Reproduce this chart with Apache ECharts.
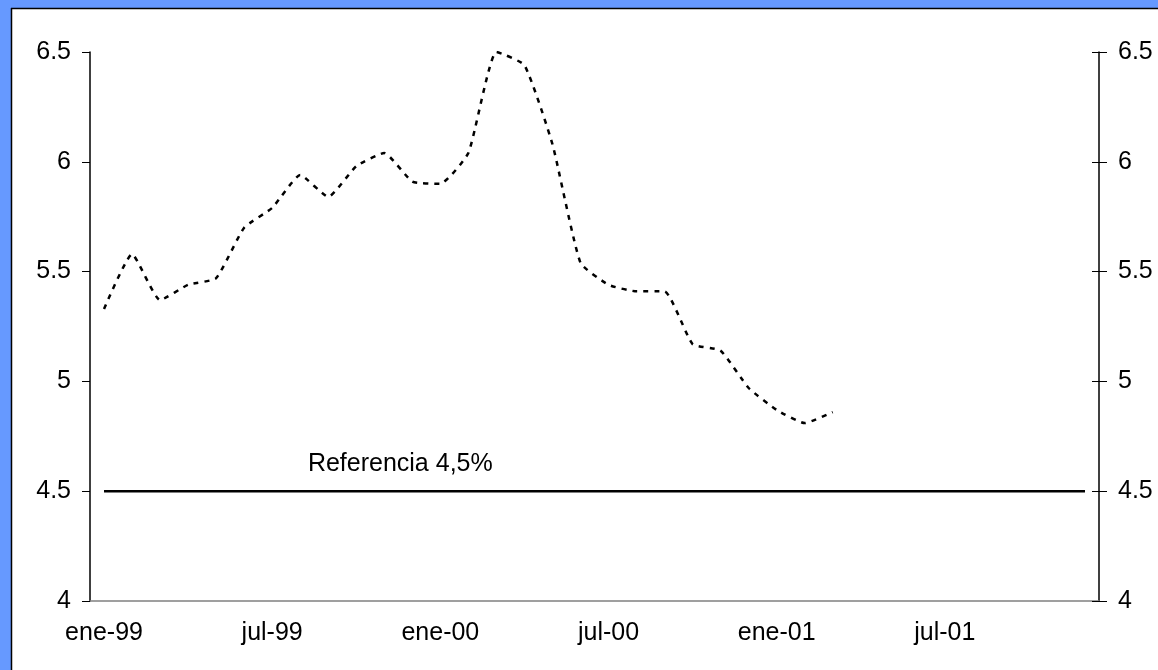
<!DOCTYPE html>
<html>
<head>
<meta charset="utf-8">
<title>Referencia 4,5%</title>
<script src="https://cdn.jsdelivr.net/npm/echarts@6/dist/echarts.min.js"></script>
<style>
    html, body { margin: 0; padding: 0; background: #fff; }
    #chart_container { width: 1158px; height: 670px; }
</style>
</head>
<body>
<div id="chart_container"></div>
<script>
// meses ene-99 .. dic-01
var meses = ['ene', 'feb', 'mar', 'abr', 'may', 'jun', 'jul', 'ago', 'sep', 'oct', 'nov', 'dic']
    , anios = ['99', '00', '01'];
var categorias = [];
for (var a = 0; a < anios.length; a++) {
    for (var m = 0; m < meses.length; m++) {
        categorias.push(meses[m] + '-' + anios[a]);
    }
}

// serie mensual (ene-99 .. mar-01)
var valores = [5.33, 5.58, 5.37, 5.44, 5.47, 5.70, 5.79, 5.94, 5.84, 5.98,
    6.04, 5.91, 5.90, 6.04, 6.50, 6.44, 6.08, 5.54, 5.44, 5.41,
    5.41, 5.17, 5.14, 4.97, 4.87, 4.81, 4.86];

// linea de referencia 4,5
var referencia = [];
for (var i = 0; i < categorias.length; i++) referencia.push(4.5);

var yTicks = [4, 4.5, 5, 5.5, 6, 6.5];

var fuente = 'Liberation Sans, Arial, sans-serif';
var tam = 25;

var dom = document.getElementById('chart_container');
var myChart = echarts.init(dom);
var option = {
    animation: false,
    backgroundColor: '#fff',
    graphic: [
        { type: 'rect', shape: { x: 0, y: 0, width: 1158, height: 8 }, style: { fill: '#6699ff' } }
        , { type: 'rect', shape: { x: 0, y: 0, width: 11, height: 670 }, style: { fill: '#6699ff' } }
        , { type: 'line', shape: { x1: 11, y1: 8.5, x2: 1158, y2: 8.5 }, style: { stroke: '#000', lineWidth: 1.5 } }
        , { type: 'line', shape: { x1: 11.5, y1: 8, x2: 11.5, y2: 670 }, style: { stroke: '#000', lineWidth: 1.5 } }
    ],
    grid: { left: 90, right: 59, top: 52, bottom: 69 },
    xAxis: [{
        type: 'category',
        data: categorias,
        boundaryGap: true,
        axisLine: { lineStyle: { color: '#808080', width: 1.5 } },
        axisTick: { interval: 0, length: 6, lineStyle: { color: '#000' } },
        axisLabel: {
            interval: 5, color: '#000', fontSize: tam, fontFamily: fuente, margin: 20
        },
        splitLine: { show: false }
    }, {
        // marcas largas cada 6 meses
        type: 'category',
        data: categorias,
        position: 'bottom',
        boundaryGap: true,
        axisLine: { show: false },
        axisTick: { interval: 5, length: 8, lineStyle: { color: '#000' } },
        axisLabel: { show: false }
    }],
    yAxis: [{
        type: 'value',
        min: 4, max: 6.5, interval: 0.5,
        position: 'left',
        axisLine: { show: true, lineStyle: { color: '#000', width: 1.5 } },
        axisTick: { show: true, length: 8, lineStyle: { color: '#000' } },
        axisLabel: {
            color: '#000', fontSize: tam, fontFamily: fuente, margin: 19,
            formatter: function (v) { return yTicks.indexOf(v) >= 0 ? String(v) : ''; }
        },
        splitLine: { show: false }
    }, {
        type: 'value',
        min: 4, max: 6.5, interval: 0.5,
        position: 'right',
        axisLine: { show: true, lineStyle: { color: '#000', width: 1.5 } },
        axisTick: { show: true, length: 8, lineStyle: { color: '#000' } },
        axisLabel: {
            color: '#000', fontSize: tam, fontFamily: fuente, margin: 19,
            formatter: function (v) { return String(v); }
        },
        splitLine: { show: false }
    }, {
        // marca interior del eje derecho
        type: 'value',
        min: 4, max: 6.5, interval: 0.5,
        position: 'right',
        axisLine: { show: false },
        axisTick: { show: true, inside: true, length: 7, lineStyle: { color: '#000' } },
        axisLabel: { show: false },
        splitLine: { show: false }
    }],
    series: [{
        name: 'serie',
        type: 'line',
        data: valores,
        smooth: 0.15,
        symbol: 'none',
        lineStyle: { color: '#000', width: 2.5, type: [5, 6] },
        z: 3
    }, {
        name: 'Referencia 4,5%',
        type: 'line',
        data: referencia,
        symbol: 'none',
        lineStyle: { color: '#000', width: 2.5 },
        markPoint: {
            symbol: 'circle',
            symbolSize: 0,
            data: [{ coord: [10, 4.5], value: 'Referencia 4,5%' }],
            label: {
                show: true, position: 'top', offset: [16, -10],
                color: '#000', fontSize: tam, fontFamily: fuente,
                formatter: 'Referencia 4,5%'
            }
        },
        z: 2
    }]
};
if (option && typeof option === 'object') {
    myChart.setOption(option, true);
}
</script>
</body>
</html>
